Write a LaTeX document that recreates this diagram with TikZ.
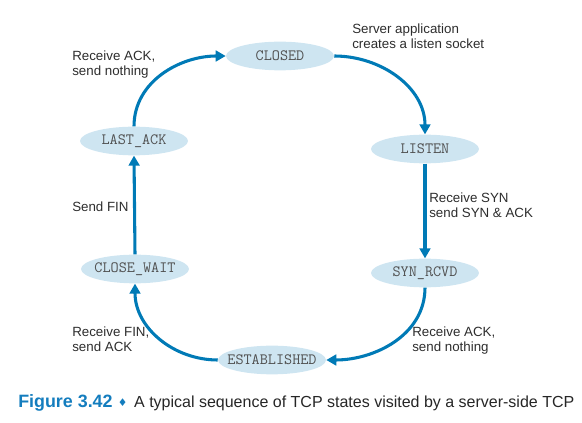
\documentclass[tikz,border=0pt]{standalone}
\usepackage{fontspec}
\setmainfont{Liberation Sans}
\newfontfamily\symbolfont{DejaVu Sans}
\usetikzlibrary{shapes.geometric,arrows.meta}
\definecolor{arrowblue}{RGB}{0,122,182}
\definecolor{statefill}{RGB}{206,229,241}
\definecolor{statetext}{RGB}{80,80,80}
\definecolor{notetext}{RGB}{45,45,45}
\definecolor{capblue}{RGB}{20,125,190}
\begin{document}
\begin{tikzpicture}[x=0.75pt,y=-0.75pt,
    state/.style={ellipse,fill=statefill,minimum width=81pt,minimum height=21.5pt,
      inner xsep=-8pt,inner ysep=0pt,text=statetext,
      font=\ttfamily\fontsize{11.8}{12}\selectfont},
    trans/.style={arrowblue,line width=2.3pt,-{Triangle[length=7.5pt,width=8pt]}},
    note/.style={anchor=north west,align=left,inner sep=0pt,text=notetext,
      font=\fontsize{10}{11.2}\selectfont}]
  \useasboundingbox (0,0) rectangle (582,423);

  \node[state] (closed) at (280,56) {CLOSED};
  \node[state] (listen) at (425,149) {LISTEN};
  \node[state] (synrcvd) at (425,273) {SYN\_RCVD};
  \node[state] (established) at (272,360) {ESTABLISHED};
  \node[state] (closewait) at (135,269) {CLOSE\_WAIT};
  \node[state] (lastack) at (134,141) {LAST\_ACK};

  \draw[trans] (closed.east) to[out=0,in=90] (listen.north);
  \draw[trans] (listen.south) -- (synrcvd.north);
  \draw[trans] (synrcvd.south) to[out=-90,in=0] (established.east);
  \draw[trans] (established.west) to[out=180,in=-90] (closewait.south);
  \draw[trans] (closewait.north) -- (lastack.south);
  \draw[trans] (lastack.north) to[out=90,in=180] (closed.west);

  \node[note] (srvapp) at (352,24) {Server application\\creates a listen socket};
  \node[note] (rcvsyn) at (429,193) {Receive SYN\\send SYN \& ACK};
  \node[note] (rcvack) at (412,327) {Receive ACK,\\send nothing};
  \node[note] (rcvfin) at (72,327) {Receive FIN,\\send ACK};
  \node[note] (sendfin) at (72,202) {Send FIN};
  \node[note] (lastrcv) at (72,51) {Receive ACK,\\send nothing};

  \node[anchor=west,inner sep=0pt,font=\fontsize{12}{14}\selectfont,text=black!85] (caption) at (18,403)
    {{\color{capblue}\fontsize{13.4}{14}\selectfont\bfseries Figure 3.42\hspace{4pt}{\symbolfont\fontsize{8}{10}\selectfont\raisebox{0.5pt}{♦}}}\hspace{5pt}A typical sequence of TCP states visited by a server-side TCP};
\end{tikzpicture}
\end{document}
